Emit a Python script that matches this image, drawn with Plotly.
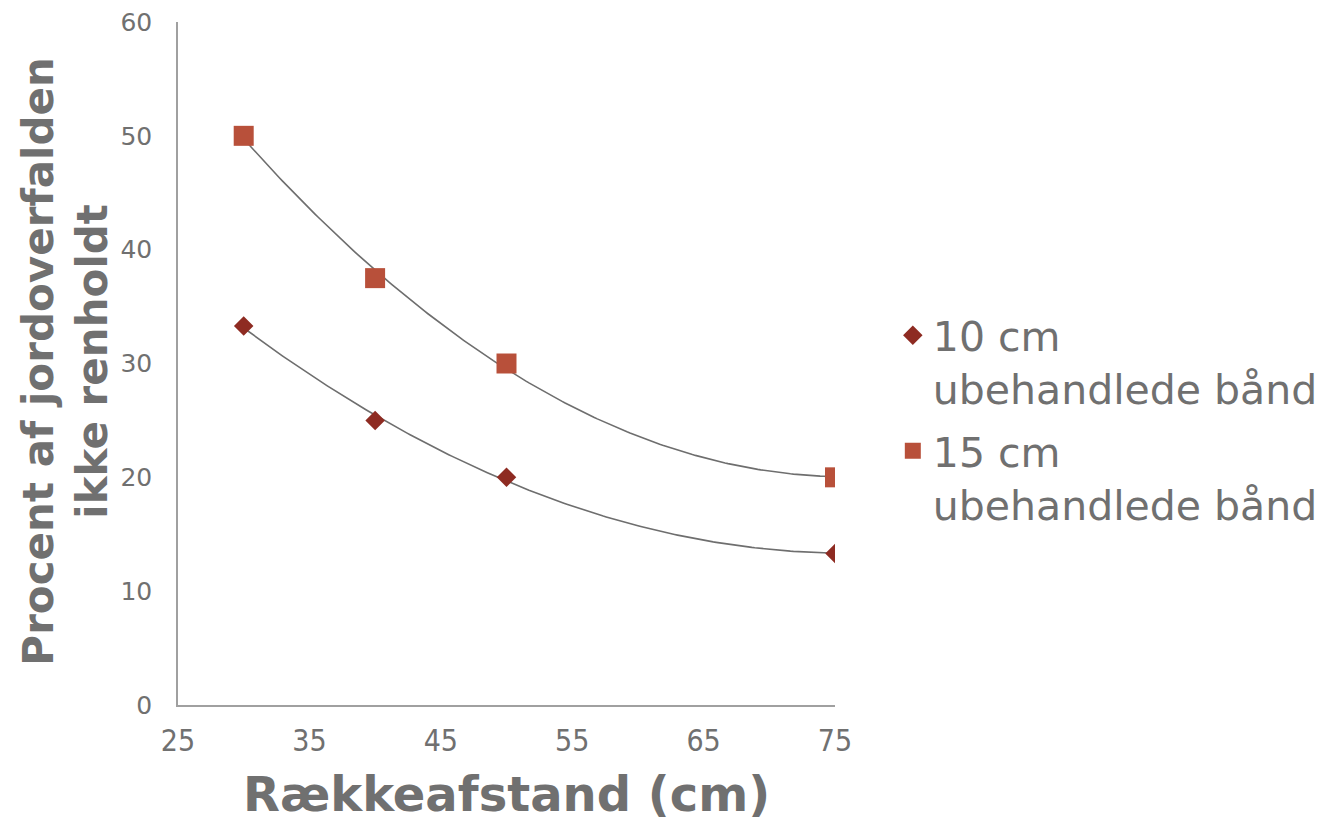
import numpy as np
import plotly.graph_objects as go

row_spacing = [30, 40, 50, 75]
series_names = ["10 cm<br>ubehandlede bånd", "15 cm<br>ubehandlede bånd"]
pct_10cm = [33.3, 25.0, 20.0, 13.3]
pct_15cm = [50.0, 37.5, 30.0, 20.0]
x_ticks = [25, 35, 45, 55, 65, 75]
y_ticks = [0, 10, 20, 30, 40, 50, 60]

colors = ["#8E2B22", "#B8503A"]
symbols = ["diamond", "square"]
sizes = [15, 20]
groups = ["g10", "g15"]
grey = "#707070"

fig = go.Figure()
for vals in [pct_10cm, pct_15cm]:
    coef = np.polyfit(row_spacing, vals, 2)
    xs = np.linspace(min(row_spacing), max(row_spacing), 200)
    fig.add_trace(go.Scatter(x=xs, y=np.polyval(coef, xs), mode="lines",
                             line=dict(color="#6E6E6E", width=1.6),
                             showlegend=False, hoverinfo="skip"))
for vals, name, c, s, sz, g in zip([pct_10cm, pct_15cm], series_names, colors, symbols, sizes, groups):
    fig.add_trace(go.Scatter(x=row_spacing, y=vals, mode="markers", name=name,
                             legendgroup=g,
                             marker=dict(color=c, symbol=s, size=sz,
                                         line=dict(width=0))))

fig.update_layout(
    width=1324, height=813,
    paper_bgcolor="white", plot_bgcolor="white",
    margin=dict(l=170, r=497, t=14, b=116, autoexpand=False),
    font=dict(family="DejaVu Sans", color=grey),
    legend=dict(x=1.088, y=0.59, xanchor="left", yanchor="top",
                font=dict(size=41, color=grey, family="DejaVu Sans"),
                valign="top", itemsizing="trace", tracegroupgap=6,
                traceorder="grouped"),
    xaxis=dict(range=[25, 75], tickvals=x_ticks, showgrid=False, zeroline=False,
               showline=True, linecolor="#A0A0A0", linewidth=1.5,
               ticklabeloverflow="allow",
               tickfont=dict(size=30, family="Liberation Sans Narrow, DejaVu Sans Condensed", color=grey),
               ticks="outside", ticklen=8, tickcolor="rgba(0,0,0,0)"),
    yaxis=dict(range=[0, 60], tickvals=y_ticks, showgrid=False, zeroline=False,
               showline=True, linecolor="#A0A0A0", linewidth=1.5,
               ticklabeloverflow="allow",
               tickfont=dict(size=25, family="DejaVu Sans", color=grey),
               ticks="outside", ticklen=19, tickcolor="rgba(0,0,0,0)"),
    annotations=[
        dict(text="Rækkeafstand (cm)", xref="paper", yref="paper", x=0.5, y=-0.13,
             xanchor="center", yanchor="middle", showarrow=False,
             font=dict(size=48, family="DejaVu Sans", color=grey, weight="bold")),
        dict(text="Procent af jordoverfalden<br>ikke renholdt", xref="paper", yref="paper",
             x=-0.171, y=0.5037, xanchor="center", yanchor="middle", textangle=-90,
             showarrow=False,
             font=dict(size=42, family="DejaVu Sans", color=grey, weight="bold")),
    ],
)

fig.write_html("out.html")
